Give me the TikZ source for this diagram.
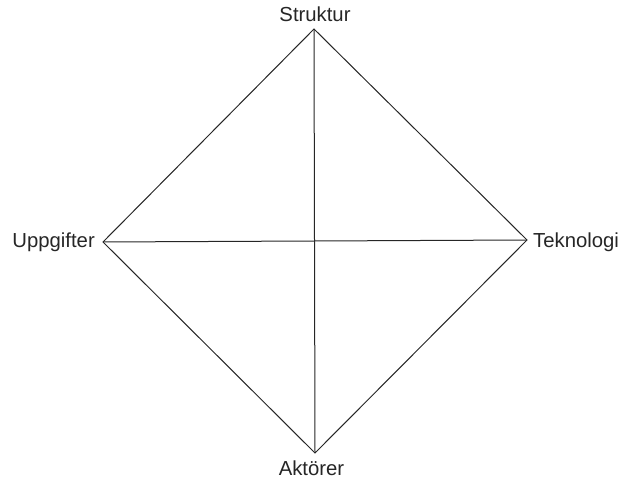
\documentclass[tikz,border=0pt]{standalone}
\usepackage{fontspec}
\setmainfont{Liberation Sans}
\begin{document}
\begin{tikzpicture}[x=1pt,y=1pt,
  edge/.style={draw=black!85,line width=1pt},
  lbl/.style={inner sep=0pt,text=black!85,font=\fontsize{20.3}{23}\selectfont}]
\useasboundingbox (0,0) rectangle (618,479);
\coordinate (T) at (314,450);
\coordinate (L) at (103,237);
\coordinate (R) at (527,239);
\coordinate (B) at (315,26);
\draw[edge] (T) -- (R) -- (B) -- (L) -- cycle;
\draw[edge] (T) -- (B);
\draw[edge] (L) -- (R);
\node[lbl,anchor=base] (s) at (315,457) {Struktur};
\node[lbl,anchor=base east] (u) at (95,231) {Uppgifter};
\node[lbl,anchor=base west] (t) at (533,231) {Teknologi};
\node[lbl,anchor=base] (a) at (311.5,4) {Aktörer};
\end{tikzpicture}
\end{document}
